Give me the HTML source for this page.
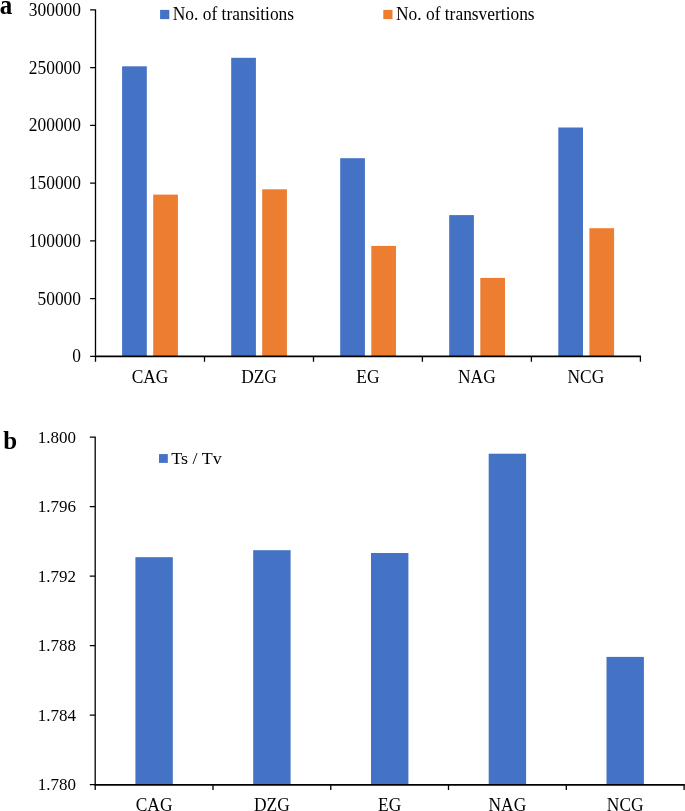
<!DOCTYPE html>
<html>
<head>
<meta charset="utf-8">
<title>Transitions and transversions</title>
<style>
html,body{margin:0;padding:0;background:#fff;}
body{width:685px;height:811px;overflow:hidden;}
svg{display:block;will-change:transform;}
text{font-family:"Liberation Serif",serif;fill:#000;}
.t{font-size:17.4px;}
.p{font-size:25px;font-weight:bold;fill:#000;}
.tb{font-size:17px;}
.lb{font-size:18px;}
.ax{stroke:#000;stroke-width:1.3;fill:none;}
.xa{stroke:#000;stroke-width:1.75;fill:none;}
</style>
</head>
<body>
<svg width="685" height="811" viewBox="0 0 685 811">
<rect x="0" y="0" width="685" height="811" fill="#ffffff"/>
<!-- panel a -->
<text class="p" transform="translate(-0.3 14.1) scale(1 1.07)">a</text>
<rect x="122.1" y="66.3" width="24.7" height="290.0" fill="#4472C4"/>
<rect x="153.2" y="194.6" width="24.7" height="161.7" fill="#ED7D31"/>
<rect x="231.2" y="57.8" width="24.7" height="298.5" fill="#4472C4"/>
<rect x="262.2" y="189.3" width="24.7" height="167.0" fill="#ED7D31"/>
<rect x="340.2" y="158.2" width="24.7" height="198.1" fill="#4472C4"/>
<rect x="371.3" y="245.9" width="24.7" height="110.4" fill="#ED7D31"/>
<rect x="449.2" y="215.1" width="24.7" height="141.2" fill="#4472C4"/>
<rect x="480.3" y="277.9" width="24.7" height="78.4" fill="#ED7D31"/>
<rect x="558.3" y="127.5" width="24.7" height="228.8" fill="#4472C4"/>
<rect x="589.4" y="228.2" width="24.7" height="128.1" fill="#ED7D31"/>
<path class="xa" d="M94.9 356.35 H641.0"/>
<path class="ax" d="M95.5 9.2 V356.3 M90.1 356.3 H95.5 M90.1 298.6 H95.5 M90.1 240.8 H95.5 M90.1 183.1 H95.5 M90.1 125.3 H95.5 M90.1 67.6 H95.5 M90.1 9.8 H95.5 M95.5 356.3 V361.7 M204.5 356.3 V361.7 M313.5 356.3 V361.7 M422.4 356.3 V361.7 M531.4 356.3 V361.7 M640.4 356.3 V361.7"/>
<text class="t" transform="translate(81.0 362.3) scale(1 1.05)" text-anchor="end">0</text>
<text class="t" transform="translate(81.0 304.6) scale(1 1.05)" text-anchor="end">50000</text>
<text class="t" transform="translate(81.0 246.8) scale(1 1.05)" text-anchor="end">100000</text>
<text class="t" transform="translate(81.0 189.1) scale(1 1.05)" text-anchor="end">150000</text>
<text class="t" transform="translate(81.0 131.3) scale(1 1.05)" text-anchor="end">200000</text>
<text class="t" transform="translate(81.0 73.6) scale(1 1.05)" text-anchor="end">250000</text>
<text class="t" transform="translate(81.0 15.8) scale(1 1.05)" text-anchor="end">300000</text>
<text class="t" transform="translate(150.0 382.7) scale(1 1.05)" text-anchor="middle">CAG</text>
<text class="t" transform="translate(259.0 382.7) scale(1 1.05)" text-anchor="middle">DZG</text>
<text class="t" transform="translate(367.9 382.7) scale(1 1.05)" text-anchor="middle">EG</text>
<text class="t" transform="translate(476.9 382.7) scale(1 1.05)" text-anchor="middle">NAG</text>
<text class="t" transform="translate(585.9 382.7) scale(1 1.05)" text-anchor="middle">NCG</text>
<rect x="160.1" y="9.9" width="9.2" height="9.2" fill="#4472C4"/>
<text class="t" transform="translate(172.8 20.1) scale(1 1.03)">No. of transitions</text>
<rect x="383.3" y="9.9" width="9.2" height="9.2" fill="#ED7D31"/>
<text class="t" transform="translate(396.0 20.1) scale(1 1.03)">No. of transvertions</text>
<!-- panel b -->
<text class="p" transform="translate(3.3 449.4) scale(1 1.03)">b</text>
<rect x="135.4" y="557.2" width="37.4" height="227.4" fill="#4472C4"/>
<rect x="253.2" y="550.2" width="37.4" height="234.4" fill="#4472C4"/>
<rect x="371.0" y="553.0" width="37.4" height="231.6" fill="#4472C4"/>
<rect x="488.7" y="453.7" width="37.4" height="330.9" fill="#4472C4"/>
<rect x="606.5" y="656.9" width="37.4" height="127.7" fill="#4472C4"/>
<path class="xa" d="M94.6 784.80 H684.7"/>
<path class="ax" d="M95.2 436.6 V784.6 M89.8 784.6 H95.2 M89.8 715.1 H95.2 M89.8 645.6 H95.2 M89.8 576.2 H95.2 M89.8 506.7 H95.2 M89.8 437.2 H95.2 M95.2 784.6 V790.0 M213.0 784.6 V790.0 M330.8 784.6 V790.0 M448.5 784.6 V790.0 M566.3 784.6 V790.0 M684.1 784.6 V790.0"/>
<text class="tb t" transform="translate(76.1 790.3) scale(1 1.04)" text-anchor="end">1.780</text>
<text class="tb t" transform="translate(76.1 720.8) scale(1 1.04)" text-anchor="end">1.784</text>
<text class="tb t" transform="translate(76.1 651.3) scale(1 1.04)" text-anchor="end">1.788</text>
<text class="tb t" transform="translate(76.1 581.9) scale(1 1.04)" text-anchor="end">1.792</text>
<text class="tb t" transform="translate(76.1 512.4) scale(1 1.04)" text-anchor="end">1.796</text>
<text class="tb t" transform="translate(76.1 442.9) scale(1 1.04)" text-anchor="end">1.800</text>
<text class="t" transform="translate(154.1 811.2) scale(1 1.05)" text-anchor="middle">CAG</text>
<text class="t" transform="translate(271.9 811.2) scale(1 1.05)" text-anchor="middle">DZG</text>
<text class="t" transform="translate(389.6 811.2) scale(1 1.05)" text-anchor="middle">EG</text>
<text class="t" transform="translate(507.4 811.2) scale(1 1.05)" text-anchor="middle">NAG</text>
<text class="t" transform="translate(625.2 811.2) scale(1 1.05)" text-anchor="middle">NCG</text>
<rect x="159.0" y="454.1" width="8.8" height="8.8" fill="#4472C4"/>
<text class="lb t" transform="translate(171.3 464.3) scale(1 0.97)">Ts / Tv</text>
</svg>
</body>
</html>
